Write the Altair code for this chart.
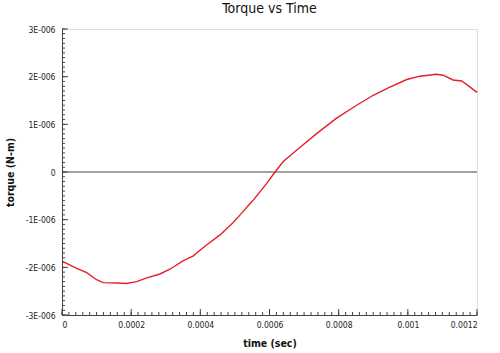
import altair as alt
import numpy as np
import pandas as pd

# ---- data ----
time_s = [0.0, 0.0000425, 0.0000714, 0.0001, 0.000119, 0.000158, 0.000187, 0.000216,
          0.000245, 0.000283, 0.000312, 0.000351, 0.00038, 0.000399, 0.000418, 0.000457,
          0.000495, 0.000515, 0.000544, 0.000553, 0.000592, 0.000616, 0.00064, 0.000679,
          0.000737, 0.000794, 0.000852, 0.0009, 0.000948, 0.000997, 0.001035, 0.001083,
          0.001102, 0.001131, 0.001156, 0.00118, 0.0012]
torque = [-1.87e-6, -2.02e-6, -2.11e-6, -2.26e-6, -2.32e-6, -2.33e-6, -2.34e-6, -2.30e-6,
          -2.22e-6, -2.14e-6, -2.04e-6, -1.86e-6, -1.76e-6, -1.64e-6, -1.53e-6, -1.32e-6,
          -1.06e-6, -0.90e-6, -0.66e-6, -0.59e-6, -0.24e-6, 0.0, 0.22e-6, 0.46e-6,
          0.81e-6, 1.13e-6, 1.40e-6, 1.61e-6, 1.78e-6, 1.94e-6, 2.01e-6, 2.05e-6,
          2.03e-6, 1.93e-6, 1.91e-6, 1.78e-6, 1.67e-6]

x_major = [0.0, 0.0002, 0.0004, 0.0006, 0.0008, 0.001, 0.0012]
x_minor = [round(i * 0.00002, 6) for i in range(61)]
y_major = [-3e-6, -2e-6, -1e-6, 0.0, 1e-6, 2e-6, 3e-6]
y_minor = [round(i * 1e-7, 9) for i in range(-30, 31)]

W, H = 415, 286
FONT = "DejaVu Sans Condensed"
AXC = "#444444"

df = pd.DataFrame({"t": time_s, "torque": torque})

xs = alt.Scale(domain=[0, 0.0012], nice=False, zero=False)
ys = alt.Scale(domain=[-3e-6, 3e-6], nice=False, zero=False)

x_axis = alt.Axis(values=x_major, ticks=False, grid=False, domainColor=AXC,
                  labelExpr="format(datum.value, '.4~f')", labelFont=FONT,
                  labelFontSize=8.5, labelColor="#222", labelPadding=5,
                  titleFont=FONT, titleFontSize=10.5, titleFontWeight="bold",
                  titleColor="#111", titlePadding=10)
y_axis = alt.Axis(values=y_major, ticks=False, grid=False, domainColor=AXC,
                  labelExpr="datum.value == 0 ? '0' : (datum.value < 0 ? '-' : '') + abs(round(datum.value*1e6)) + 'E-006'",
                  labelFont=FONT, labelFontSize=8.5, labelColor="#222", labelPadding=7,
                  titleFont=FONT, titleFontSize=10.5, titleFontWeight="bold",
                  titleColor="#111", titlePadding=10)
XT = "time (sec)"
YT = "torque (N-m)"

line = alt.Chart(df).mark_line(color="#e3202a", strokeWidth=1.4).encode(
    x=alt.X("t:Q", scale=xs, title=XT, axis=x_axis),
    y=alt.Y("torque:Q", scale=ys, title=YT, axis=y_axis),
)

zero = alt.Chart(pd.DataFrame({"z": [0.0]})).mark_rule(color=AXC, strokeWidth=1).encode(
    y=alt.Y("z:Q", scale=ys, title=YT, axis=y_axis))

def xticks(vals, length):
    return alt.Chart(pd.DataFrame({"v": vals})).mark_rule(color=AXC, strokeWidth=1).encode(
        x=alt.X("v:Q", scale=xs, title=XT, axis=x_axis),
        y=alt.value(H), y2=alt.value(H - length))

def yticks(vals, length):
    return alt.Chart(pd.DataFrame({"v": vals})).mark_rule(color=AXC, strokeWidth=1).encode(
        y=alt.Y("v:Q", scale=ys, title=YT, axis=y_axis),
        x=alt.value(0), x2=alt.value(length))

chart = alt.layer(
    xticks(x_minor, 3), xticks(x_major, 6), yticks(y_minor, 3), yticks(y_major, 6),
    zero, line
).properties(
    width=W, height=H,
    title=alt.TitleParams("Torque vs Time", font="DejaVu Sans Condensed", fontSize=14,
                          fontWeight="normal", color="#111", offset=9),
    autosize=alt.AutoSizeParams(type="none"),
    padding={"left": 62, "top": 29, "right": 23, "bottom": 38},
).configure_view(stroke=AXC, strokeWidth=1).configure(background="white")

chart.save("out.html", embed_options={"renderer": "svg", "actions": False})
